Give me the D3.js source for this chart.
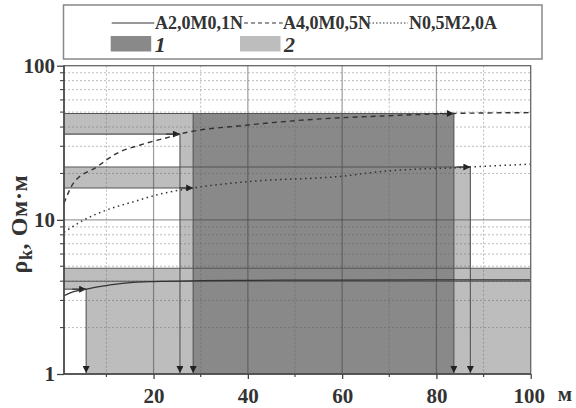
<!DOCTYPE html>
<html><head><meta charset="utf-8">
<script src="https://cdn.jsdelivr.net/npm/d3@7"></script>
<style>body{margin:0;background:#fff}svg{display:block}</style>
</head><body>
<script>
// ---- data ----
const xTickLabels = [20, 40, 60, 80, 100];
const xMinorTicks = [10, 30, 50, 70, 90];
const yTickLabels = [1, 10, 100];
const yMinorTicks = [2,3,4,5,6,7,8,9,20,30,40,50,60,70,80,90];
const seriesNames = ["A2,0M0,1N", "A4,0M0,5N", "N0,5M2,0A"];
const regionNames = ["1", "2"];
// curve A2,0M0,1N (solid)
const solidX = [1, 3, 5.7, 10.8, 15.7, 20, 30, 40, 60, 80, 100];
const solidY = [3.22, 3.42, 3.55, 3.78, 3.93, 3.98, 4.03, 4.05, 4.07, 4.08, 4.08];
// curve A4,0M0,5N (dashed)
const dashX = [1, 3, 8, 12.2, 17.2, 24.2, 25.6, 40, 60, 67.8, 83.7, 100];
const dashY = [12.8, 17.3, 22.1, 27, 30.6, 35, 36, 41.2, 46, 47.1, 49, 49.6];
// curve N0,5M2,0A (dotted)
const dotX = [1, 2, 5.15, 10.1, 15.7, 21.4, 28.4, 40, 60, 67.8, 87.2, 100];
const dotY = [8.3, 8.7, 9.96, 11.6, 13.1, 14.7, 16.1, 17.7, 19.2, 20.5, 22, 23];
// shaded regions [x0, x1, rho0, rho1]
const lightRects = [[1,28.4,36,49],[1,28.4,16.1,22],[25.6,28.4,1,49],[1,100,4,4.85],[1,5.7,3.55,4],[5.7,100,1,4],[83.7,87.2,1,22]];
const darkRects = [[28.4,83.7,1,49]];
// level lines with arrow [rho, xEnd]
const levelArrows = [[3.55,5.7],[36,25.6],[16.1,28.4],[49,83.7],[22,87.2]];
const levelPlain = [[4,100],[4.85,100]];
// drop lines with arrow [x, rhoTop]
const drops = [[5.7,3.55],[25.6,36],[28.4,49],[83.7,49],[87.2,22]];

// ---- layout ----
const W = 576, H = 408;
const L = 64, R = 530.7, T = 65.7, B = 374;
const svg = d3.select("body").append("svg").attr("width", W).attr("height", H);
const x = d3.scaleLinear().domain([1, 100]).range([L, R]);
const y = d3.scaleLog().domain([1, 100]).range([B, T]);
const LIGHT = "#bdbdbd", DARK = "#898989", INK = "#333";
const serif = "Liberation Serif, DejaVu Serif, serif";

svg.append("defs").html(`
 <marker id="arr" viewBox="0 0 10 10" refX="10" refY="5" markerWidth="9" markerHeight="7" markerUnits="userSpaceOnUse" orient="auto">
  <path d="M0,0L10,5L0,10z" fill="#222"/></marker>`);

const g = svg.append("g");
// fills
g.selectAll(".lr").data(lightRects).join("rect")
  .attr("x", d => x(d[0])).attr("width", d => x(d[1]) - x(d[0]))
  .attr("y", d => y(d[3])).attr("height", d => y(d[2]) - y(d[3]))
  .attr("fill", LIGHT);
g.selectAll(".dr").data(darkRects).join("rect")
  .attr("x", d => x(d[0])).attr("width", d => x(d[1]) - x(d[0]))
  .attr("y", d => y(d[3])).attr("height", d => y(d[2]) - y(d[3]))
  .attr("fill", DARK);

// grid
g.selectAll(".gxm").data(xMinorTicks).join("line")
  .attr("x1", d => x(d)).attr("x2", d => x(d)).attr("y1", T).attr("y2", B)
  .attr("stroke", "rgba(90,90,90,0.4)").attr("stroke-dasharray", "2,2").attr("stroke-width", 1);
g.selectAll(".gym").data(yMinorTicks).join("line")
  .attr("y1", d => y(d)).attr("y2", d => y(d)).attr("x1", L).attr("x2", R)
  .attr("stroke", "rgba(90,90,90,0.4)").attr("stroke-dasharray", "2,2").attr("stroke-width", 1);
g.selectAll(".gx").data(xTickLabels.slice(0, 4)).join("line")
  .attr("x1", d => x(d)).attr("x2", d => x(d)).attr("y1", T).attr("y2", B)
  .attr("stroke", "rgba(60,60,60,0.5)").attr("stroke-width", 1.2);
g.selectAll(".gy").data([10]).join("line")
  .attr("y1", d => y(d)).attr("y2", d => y(d)).attr("x1", L).attr("x2", R)
  .attr("stroke", "rgba(60,60,60,0.5)").attr("stroke-width", 1.2);

// level and drop lines
g.selectAll(".lv").data(levelPlain).join("line")
  .attr("x1", L).attr("x2", d => x(d[1])).attr("y1", d => y(d[0])).attr("y2", d => y(d[0]))
  .attr("stroke", "#555").attr("stroke-width", 1.1);
g.selectAll(".la").data(levelArrows).join("line")
  .attr("x1", L).attr("x2", d => x(d[1])).attr("y1", d => y(d[0])).attr("y2", d => y(d[0]))
  .attr("stroke", "#555").attr("stroke-width", 1.1);
g.selectAll(".lah").data(levelArrows).join("line")
  .attr("x1", d => x(d[1]) - 14).attr("x2", d => x(d[1])).attr("y1", d => y(d[0])).attr("y2", d => y(d[0]))
  .attr("stroke", "#222").attr("stroke-width", 1).attr("marker-end", "url(#arr)");
g.selectAll(".dp").data(drops).join("line")
  .attr("x1", d => x(d[0])).attr("x2", d => x(d[0])).attr("y1", d => y(d[1])).attr("y2", B - 1)
  .attr("stroke", "#555").attr("stroke-width", 1.1).attr("marker-end", "url(#arr)");

// curves
const line = d3.line().curve(d3.curveMonotoneX);
const mk = (xs, ys) => xs.map((v, i) => [x(v), y(ys[i])]);
g.append("path").attr("d", line(mk(solidX, solidY))).attr("fill", "none").attr("stroke", INK).attr("stroke-width", 1.3);
g.append("path").attr("d", line(mk(dashX, dashY))).attr("fill", "none").attr("stroke", INK).attr("stroke-width", 1.4).attr("stroke-dasharray", "5,4");
g.append("path").attr("d", line(mk(dotX, dotY))).attr("fill", "none").attr("stroke", INK).attr("stroke-width", 1.5).attr("stroke-dasharray", "1.5,3.5");

// frame
g.append("rect").attr("x", L).attr("y", T).attr("width", R - L).attr("height", B - T)
  .attr("fill", "none").attr("stroke", "#666").attr("stroke-width", 1.3);
g.append("line").attr("x1", L).attr("x2", R).attr("y1", B).attr("y2", B).attr("stroke", "#444").attr("stroke-width", 1.5);
g.append("line").attr("x1", L).attr("x2", L).attr("y1", T).attr("y2", B).attr("stroke", "#444").attr("stroke-width", 1.5);

// axes
const xAxis = d3.axisBottom(x).tickValues(xTickLabels).tickSize(5).tickFormat(d3.format("d"));
const xa = svg.append("g").attr("transform", `translate(0,${B})`).call(xAxis);
xa.select(".domain").remove();
xa.selectAll("line").attr("stroke", "#444").attr("stroke-width", 1.3);
xa.selectAll("text").attr("font-family", serif).attr("font-weight", "bold").attr("font-size", 21).attr("fill", "#333").attr("dy", "1em");
xa.selectAll(".tick").filter(d => d === 100).select("text").attr("dx", -2);
svg.append("g").attr("transform", `translate(0,${B})`).selectAll("line").data(xMinorTicks).join("line")
  .attr("x1", d => x(d)).attr("x2", d => x(d)).attr("y1", 0).attr("y2", 3).attr("stroke", "#444").attr("stroke-width", 1.2);
svg.append("text").attr("x", 565).attr("y", 401).attr("text-anchor", "middle")
  .attr("font-family", serif).attr("font-weight", "bold").attr("font-size", 21).attr("fill", "#333").text("м");

const yAxis = d3.axisLeft(y).tickValues(yTickLabels).tickSize(7).tickFormat(d3.format("d"));
const ya = svg.append("g").attr("transform", `translate(${L},0)`).call(yAxis);
ya.select(".domain").remove();
ya.selectAll("line").attr("stroke", "#444").attr("stroke-width", 1.3);
ya.selectAll("text").attr("font-family", serif).attr("font-weight", "bold").attr("font-size", 21).attr("fill", "#333").attr("x", -9);
svg.append("g").attr("transform", `translate(${L},0)`).selectAll("line").data(yMinorTicks).join("line")
  .attr("x1", -4).attr("x2", 0).attr("y1", d => y(d)).attr("y2", d => y(d)).attr("stroke", "#444").attr("stroke-width", 1.1);

// y label
const yl = svg.append("text").attr("transform", "translate(27,224) rotate(-90)").attr("text-anchor", "middle")
  .attr("font-family", serif).attr("font-weight", "bold").attr("font-size", 24).attr("fill", "#333")
  .attr("letter-spacing", 0.6);
yl.append("tspan").text("ρ");
yl.append("tspan").attr("font-size", 18).attr("dy", 5).text("k");
yl.append("tspan").attr("dy", -5).text(", Ом·м");

// legend
const lg = svg.append("g");
lg.append("rect").attr("x", 63.5).attr("y", 5).attr("width", 478.5).attr("height", 54)
  .attr("fill", "#fff").attr("stroke", "#888").attr("stroke-width", 1.5);
const lineSamples = [[111.7, 154.3, null], [244, 282.7, "4,3"], [369, 408, "1.5,2"]];
const textX = [155, 283, 409];
lineSamples.forEach((s, i) => {
  lg.append("line").attr("x1", s[0]).attr("x2", s[1]).attr("y1", 23).attr("y2", 23)
    .attr("stroke", "#333").attr("stroke-width", 1.1).attr("stroke-dasharray", s[2]);
  lg.append("text").attr("x", textX[i]).attr("y", 28.5).attr("font-family", serif).attr("font-weight", "bold")
    .attr("font-size", 18).attr("fill", "#333").text(seriesNames[i]);
});
const swX = [110.7, 240];
[DARK, LIGHT].forEach((c, i) => {
  lg.append("rect").attr("x", swX[i]).attr("y", 36).attr("width", 40.5).attr("height", 15.5).attr("fill", c);
  lg.append("text").attr("x", swX[i] + 44).attr("y", 51.5).attr("font-family", serif).attr("font-weight", "bold")
    .attr("font-style", "italic").attr("font-size", 22).attr("fill", "#333").text(regionNames[i]);
});
</script>
</body></html>
